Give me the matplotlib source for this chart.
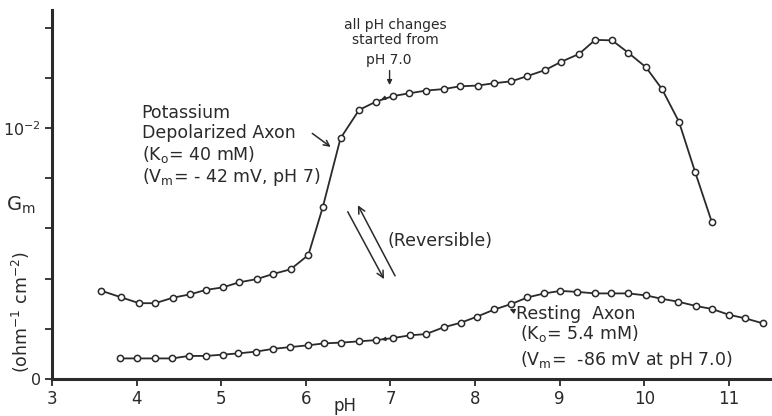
import matplotlib
matplotlib.use("Agg")
import matplotlib.pyplot as plt
import matplotlib.transforms as mtransforms

plt.rcParams['font.family'] = ['DejaVu Sans']
plt.rcParams['mathtext.default'] = 'regular'

# Gm values in units of 1e-3 ohm^-1 cm^-2
ph_k = [3.58, 3.82, 4.03, 4.22, 4.43, 4.63, 4.82, 5.02, 5.21, 5.42, 5.61, 5.82,
        6.03, 6.20, 6.41, 6.63, 6.83, 7.03, 7.22, 7.42, 7.63, 7.82, 8.03, 8.22,
        8.43, 8.62, 8.83, 9.02, 9.23, 9.42, 9.62, 9.81, 10.02, 10.21, 10.41,
        10.60, 10.80]
gm_k = [3.52, 3.25, 3.02, 3.02, 3.24, 3.37, 3.55, 3.65, 3.85, 3.98, 4.18, 4.37,
        4.94, 6.84, 9.59, 10.72, 11.05, 11.27, 11.38, 11.49, 11.55, 11.66, 11.69,
        11.78, 11.86, 12.07, 12.31, 12.64, 12.95, 13.51, 13.49, 13.00, 12.42,
        11.55, 10.25, 8.26, 6.24]

ph_r = [3.80, 4.01, 4.22, 4.42, 4.62, 4.82, 5.02, 5.20, 5.41, 5.61, 5.81, 6.02,
        6.22, 6.42, 6.63, 6.83, 7.03, 7.23, 7.42, 7.63, 7.83, 8.02, 8.23, 8.43,
        8.62, 8.82, 9.01, 9.21, 9.42, 9.61, 9.81, 10.02, 10.20, 10.40, 10.61,
        10.80, 11.00, 11.19, 11.40]
gm_r = [0.82, 0.82, 0.82, 0.82, 0.92, 0.92, 0.97, 1.02, 1.09, 1.20, 1.27, 1.34,
        1.42, 1.45, 1.50, 1.55, 1.63, 1.74, 1.79, 2.06, 2.24, 2.48, 2.77, 2.99,
        3.25, 3.41, 3.51, 3.47, 3.41, 3.41, 3.41, 3.33, 3.20, 3.08, 2.91, 2.79,
        2.56, 2.42, 2.22]

x_ticks = [3, 4, 5, 6, 7, 8, 9, 10, 11]
y_ticks = [0, 2, 4, 6, 8, 10, 12, 14]
y_ticklabels = ['0', '', '', '', '', '$10^{-2}$', '', '']

ink = '#2a2a2a'

fig = plt.figure(figsize=(7.72, 4.16), dpi=100)
ax = fig.add_axes([52 / 772, 37 / 416, 1 - 52 / 772, 369 / 416])

ax.plot(ph_k, gm_k, '-o', color=ink, lw=1.3, ms=4.5, mfc='white', mec=ink, mew=1.1)
ax.plot(ph_r, gm_r, '-o', color=ink, lw=1.3, ms=4.5, mfc='white', mec=ink, mew=1.1)

ax.set_xlim(3, 11.51)
ax.set_ylim(0, 14.7)
ax.set_xticks(x_ticks)
ax.set_xticklabels([str(v) for v in x_ticks], fontsize=12, color=ink)
ax.set_yticks(y_ticks)
ax.set_yticklabels(y_ticklabels, fontsize=11.5, color=ink)
ax.tick_params(axis='both', direction='out', length=5, width=1.3, colors=ink, pad=3)
for s in ['top', 'right']:
    ax.spines[s].set_visible(False)
for s in ['left', 'bottom']:
    ax.spines[s].set_linewidth(2.2)
    ax.spines[s].set_color(ink)

trans = mtransforms.blended_transform_factory(ax.transData, ax.transAxes)
ax.text(6.46, -0.072, 'pH', transform=trans, ha='center', va='center', fontsize=12, color=ink)

# y label
fig.text(21 / 772, 1 - 205 / 416, '$G_m$', ha='center', va='center', fontsize=14, color=ink)
fig.text(21 / 772, 1 - 312 / 416, '(ohm$^{-1}$ cm$^{-2}$)', ha='center', va='center',
         rotation=90, fontsize=12.5, color=ink)

fs = 12.5
# Potassium annotation
ax.text(4.06, 10.60, 'Potassium', fontsize=fs, va='center', ha='left', color=ink)
ax.text(4.06, 9.80, 'Depolarized Axon', fontsize=fs, va='center', ha='left', color=ink)
ax.text(4.06, 8.96, '(K$_o$= 40 mM)', fontsize=fs, va='center', ha='left', color=ink)
ax.text(4.06, 8.05, '(V$_m$= - 42 mV, pH 7)', fontsize=fs, va='center', ha='left', color=ink)
ax.annotate('', xy=(6.32, 9.18), xytext=(6.05, 9.85),
            arrowprops=dict(arrowstyle='->', color=ink, lw=1.1, mutation_scale=10))

# pH 7.0 note
ax.text(7.06, 14.1, 'all pH changes', fontsize=10, va='center', ha='center', color=ink)
ax.text(7.06, 13.5, 'started from', fontsize=10, va='center', ha='center', color=ink)
ax.text(6.98, 12.7, 'pH 7.0', fontsize=10, va='center', ha='center', color=ink)
ax.annotate('', xy=(6.99, 11.6), xytext=(6.99, 12.4),
            arrowprops=dict(arrowstyle='-|>', color=ink, lw=1.0, mutation_scale=7))

# small direction arrows on curves
ax.annotate('', xy=(6.86, 11.1), xytext=(6.98, 11.25),
            arrowprops=dict(arrowstyle='-|>', color=ink, lw=0.8, mutation_scale=6))
ax.annotate('', xy=(6.86, 1.56), xytext=(6.98, 1.61),
            arrowprops=dict(arrowstyle='-|>', color=ink, lw=0.8, mutation_scale=6))

# Reversible arrows
ax.annotate('', xy=(6.94, 3.88), xytext=(6.48, 6.76),
            arrowprops=dict(arrowstyle='->', color=ink, lw=1.1, mutation_scale=12))
ax.annotate('', xy=(6.60, 7.02), xytext=(7.07, 4.01),
            arrowprops=dict(arrowstyle='->', color=ink, lw=1.1, mutation_scale=12))
ax.text(6.97, 5.5, '(Reversible)', fontsize=12.5, va='center', ha='left', color=ink)

# Resting annotation
ax.text(8.49, 2.58, 'Resting  Axon', fontsize=fs, va='center', ha='left', color=ink)
ax.text(8.53, 1.82, '(K$_o$= 5.4 mM)', fontsize=fs, va='center', ha='left', color=ink)
ax.text(8.53, 0.76, '(V$_m$=  -86 mV at pH 7.0)', fontsize=fs, va='center', ha='left', color=ink)
ax.annotate('', xy=(8.38, 2.83), xytext=(8.48, 2.68),
            arrowprops=dict(arrowstyle='-|>', color=ink, lw=0.9, mutation_scale=7))

fig.savefig('out.png', dpi=100, facecolor='white')
